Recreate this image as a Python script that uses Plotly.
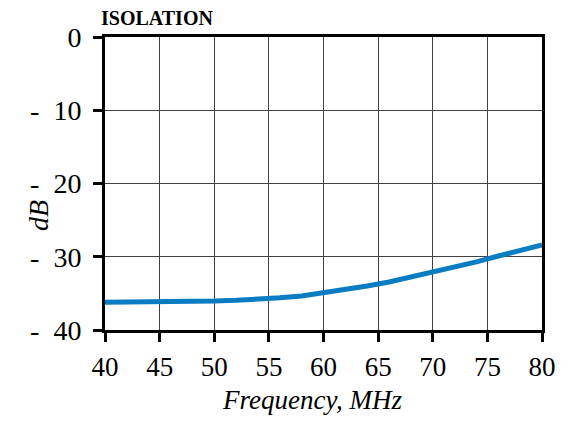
import plotly.graph_objects as go

freq_mhz = [40, 42, 44, 46, 48, 50, 52, 54, 56, 58, 60, 62, 64, 66, 68, 70, 72, 74, 76, 78, 80]
isolation_db = [-36.2, -36.2, -36.15, -36.1, -36.15, -36.05, -35.95, -35.85, -35.6, -35.35,
                -34.95, -34.55, -34.0, -33.45, -32.8, -32.0, -31.4, -30.7, -29.9, -29.2, -28.4]

x_ticks = [40, 45, 50, 55, 60, 65, 70, 75, 80]
y_ticks = [0, -10, -20, -30, -40]
y_ticktext = ["0", "-  10", "-  20", "-  30", "-  40"]

serif = "Liberation Serif, Times New Roman, serif"

# page has an 8px body margin; target positions are in page pixels
OFF = 8
W, H = 573 - OFF, 427 - OFF
L, T = 105 - OFF, 37 - OFF
R = W - (542 - OFF)
B = H - (330 - OFF)
pw = W - L - R
ph = H - T - B


def px(xp):
    return (xp - OFF - L) / pw


def py(yp):
    return (H - B - (yp - OFF)) / ph


fig = go.Figure()
fig.add_trace(go.Scatter(x=freq_mhz, y=isolation_db, mode="lines",
                         line=dict(color="#0a7dc2", width=5), showlegend=False))

fig.update_layout(
    width=W, height=H,
    margin=dict(l=L, r=R, t=T, b=B),
    paper_bgcolor="white", plot_bgcolor="white",
    font=dict(family=serif, color="black", size=28),
)
fig.add_annotation(text="<b>ISOLATION</b>", x=px(99), y=py(18), xref="paper", yref="paper",
                   showarrow=False, font=dict(size=20, family=serif), xanchor="left", yanchor="middle")
fig.add_annotation(text="<i>dB</i>", x=px(38), y=py(216), xref="paper", yref="paper",
                   showarrow=False, textangle=-90, font=dict(size=28, family=serif),
                   xanchor="center", yanchor="middle")
fig.add_annotation(text="<i>Frequency, MHz</i>", x=px(312), y=py(400), xref="paper", yref="paper",
                   showarrow=False, font=dict(size=27, family=serif),
                   xanchor="center", yanchor="middle")

fig.update_xaxes(range=[40, 80], tickvals=x_ticks, ticks="outside", ticklen=9, tickwidth=3,
                 tickcolor="black", showline=True, linewidth=3, linecolor="black", mirror=True,
                 showgrid=True, gridcolor="#404040", gridwidth=1, zeroline=False,
                 ticklabelstandoff=2, tickfont=dict(size=27))
fig.update_yaxes(range=[-40, 0], tickvals=y_ticks, ticktext=y_ticktext, ticks="outside", ticklen=9,
                 tickwidth=3, tickcolor="black", showline=True, linewidth=3, linecolor="black",
                 mirror=True, showgrid=True, gridcolor="#404040", gridwidth=1, zeroline=False,
                 ticklabelstandoff=6, tickfont=dict(size=28))

fig.write_html("out.html")
